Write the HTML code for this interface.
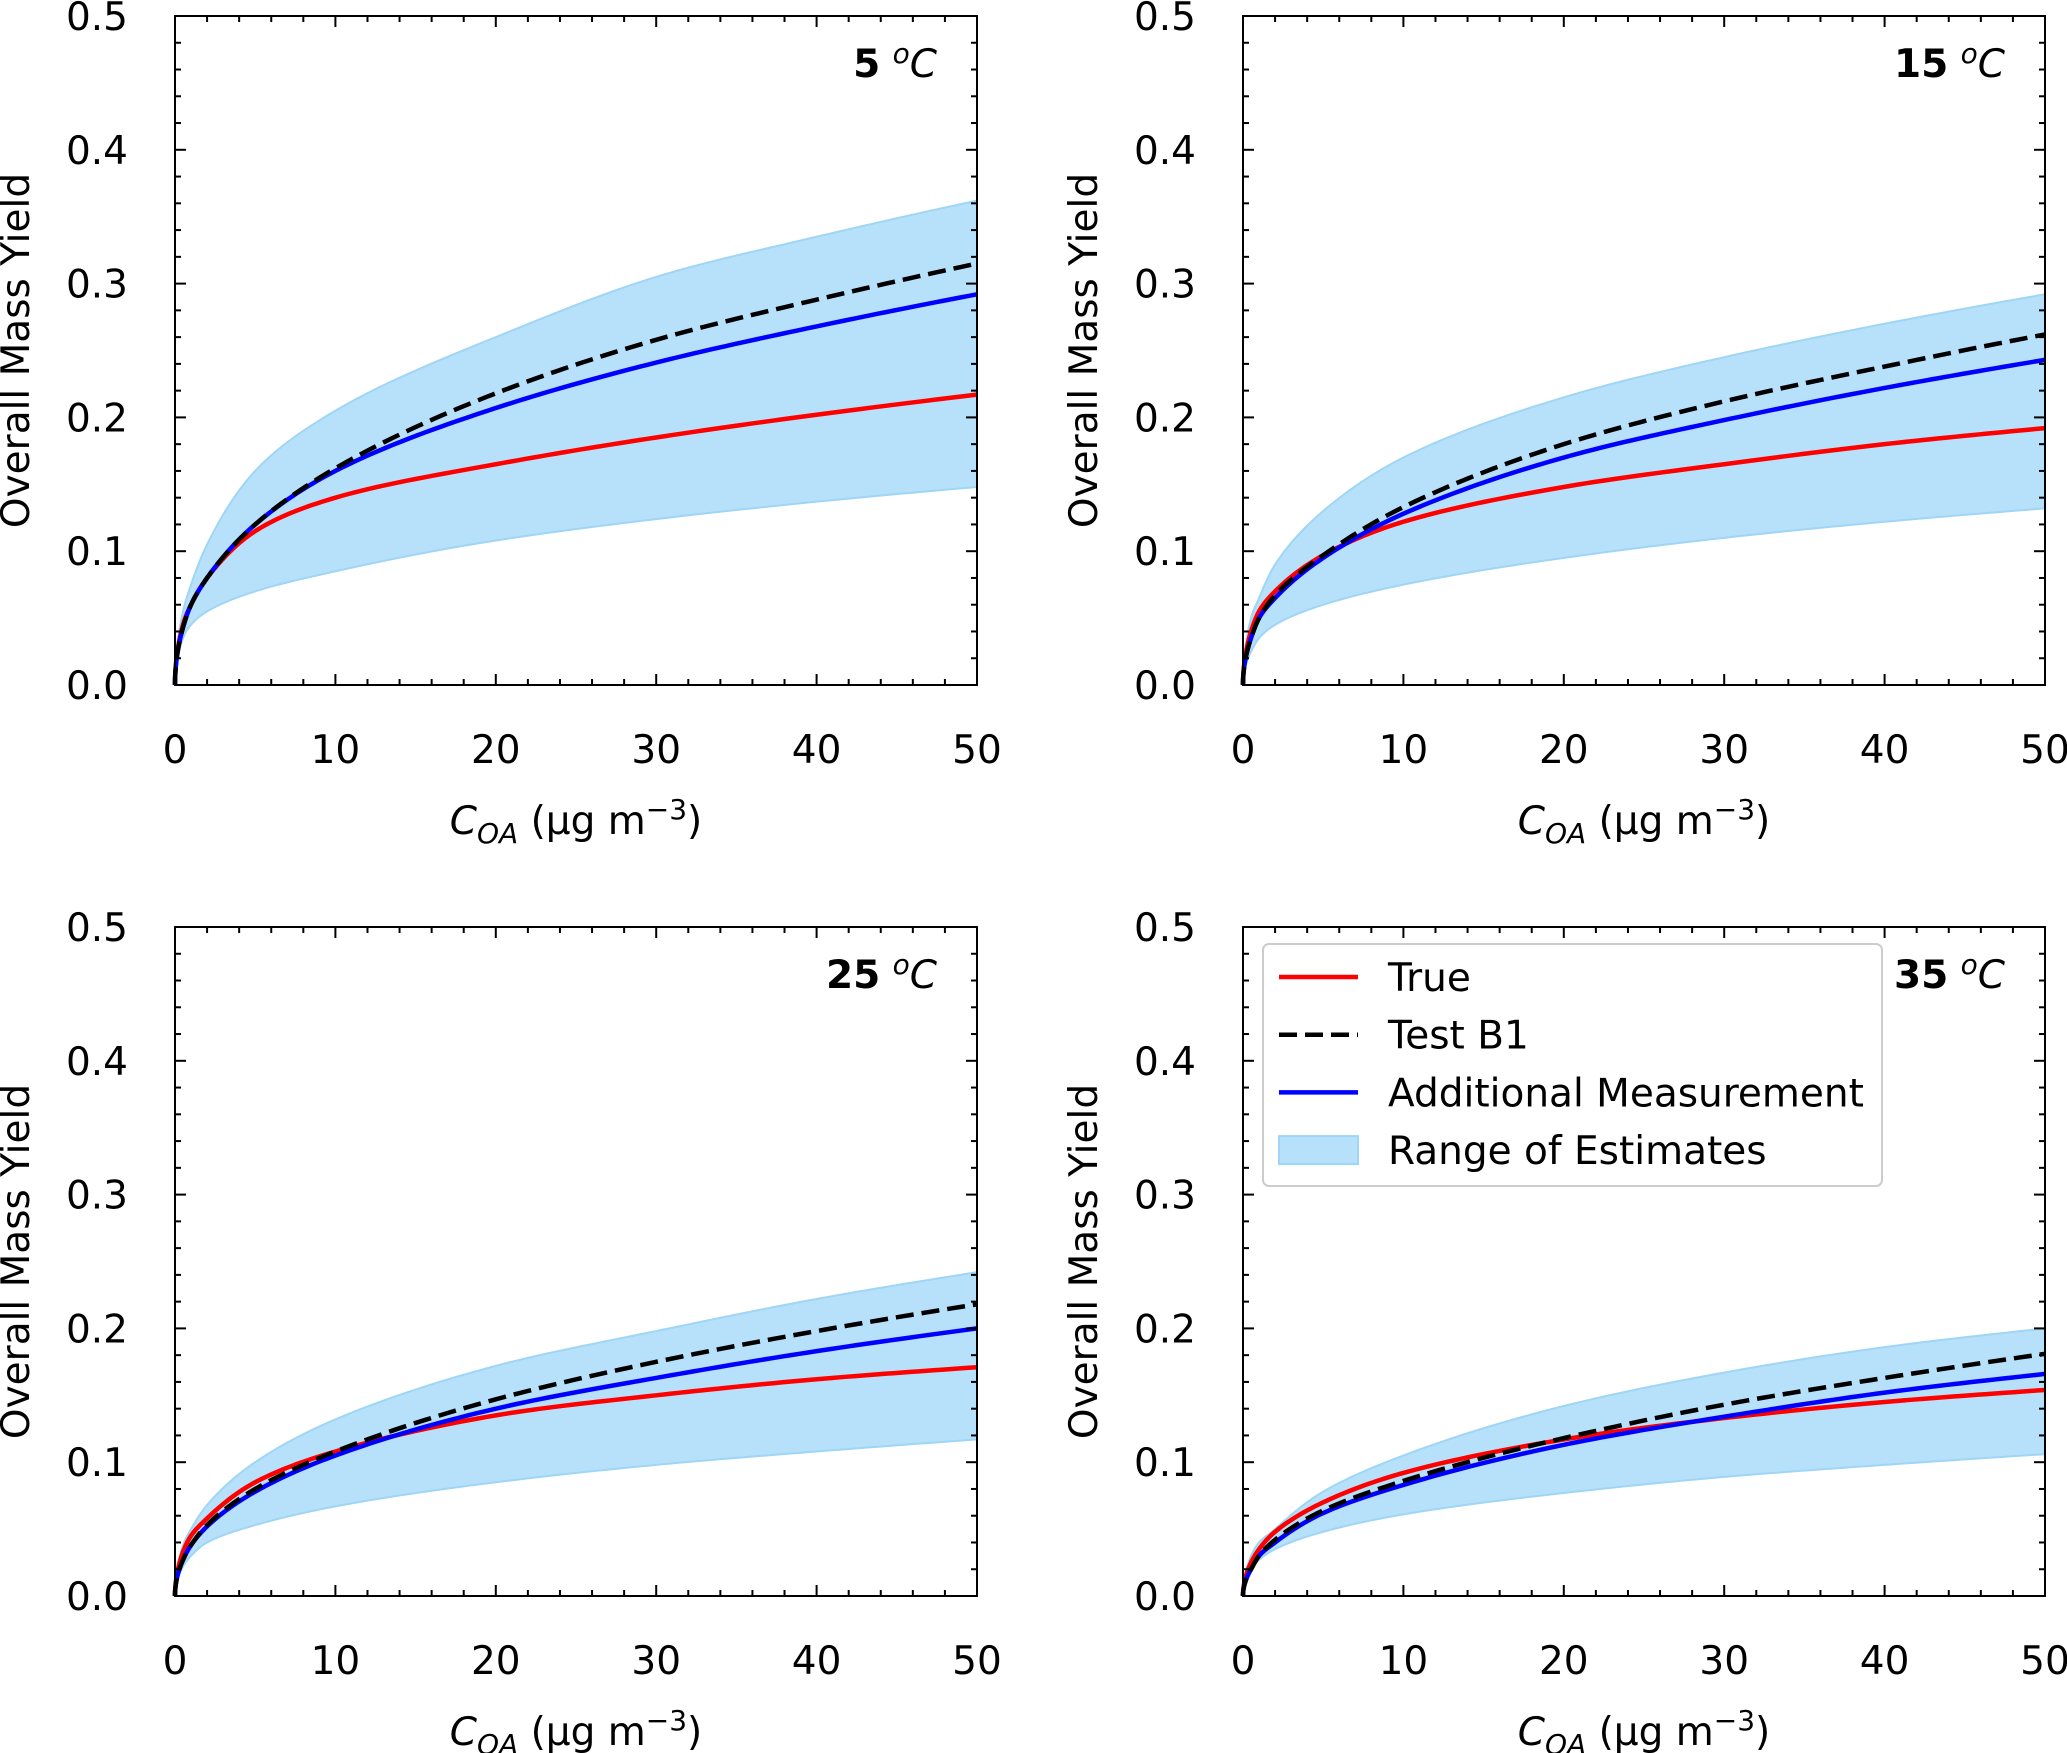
<!DOCTYPE html>
<html><head><meta charset="utf-8"><style>
html,body{margin:0;padding:0;background:#fff;}
svg{display:block;font-family:"DejaVu Sans","Liberation Sans",sans-serif;}
</style></head><body>
<svg id="fig" width="2067" height="1753" viewBox="0 0 2067 1753" xmlns="http://www.w3.org/2000/svg"></svg>
<script>
const xs = [0, 0.5, 1, 2, 5, 10, 20, 30, 40, 50];
const panelTitles = ["5", "15", "25", "35"];
const trueVals = [
 [0,0.045,0.06,0.08,0.115,0.140,0.165,0.185,0.202,0.217],
 [0,0.040,0.055,0.07,0.097,0.122,0.148,0.165,0.180,0.192],
 [0,0.033,0.045,0.058,0.085,0.108,0.135,0.150,0.162,0.171],
 [0,0.025,0.035,0.048,0.070,0.092,0.117,0.133,0.145,0.154]];
const testVals = [
 [0,0.043,0.06,0.08,0.120,0.162,0.218,0.258,0.288,0.315],
 [0,0.035,0.05,0.067,0.097,0.133,0.180,0.212,0.238,0.262],
 [0,0.027,0.038,0.053,0.080,0.108,0.147,0.175,0.198,0.218],
 [0,0.020,0.030,0.042,0.064,0.086,0.118,0.143,0.163,0.181]];
const addVals = [
 [0,0.043,0.06,0.08,0.120,0.160,0.207,0.241,0.268,0.292],
 [0,0.035,0.05,0.065,0.095,0.128,0.170,0.198,0.222,0.243],
 [0,0.027,0.038,0.052,0.078,0.105,0.140,0.163,0.183,0.200],
 [0,0.020,0.030,0.040,0.062,0.083,0.113,0.134,0.152,0.166]];
const upperVals = [
 [0,0.055,0.075,0.105,0.160,0.205,0.260,0.305,0.335,0.362],
 [0,0.050,0.065,0.090,0.130,0.170,0.215,0.245,0.270,0.292],
 [0,0.038,0.050,0.068,0.100,0.132,0.172,0.198,0.222,0.242],
 [0,0.030,0.040,0.050,0.078,0.105,0.142,0.167,0.186,0.200]];
const lowerVals = [
 [0,0.035,0.045,0.055,0.070,0.085,0.108,0.124,0.137,0.148],
 [0,0.025,0.035,0.045,0.060,0.075,0.095,0.110,0.122,0.132],
 [0,0.022,0.030,0.040,0.053,0.067,0.085,0.098,0.108,0.117],
 [0,0.020,0.027,0.035,0.048,0.061,0.077,0.089,0.098,0.106]];
const xTicks = [0,10,20,30,40,50];
const yTicks = [0,0.1,0.2,0.3,0.4,0.5];

const NS = "http://www.w3.org/2000/svg";
const svg = document.getElementById("fig");
function el(tag, attrs, parent){ const e=document.createElementNS(NS,tag); for(const k in attrs) e.setAttribute(k,attrs[k]); (parent||svg).appendChild(e); return e; }

const origins = [[175,16],[1243,16],[175,927],[1243,927]];
const W = 802, H = 669;
const FS = 39;

// smooth in sqrt(x) space, return dense [x,y] data samples
function dense(vals){
  const u = xs.map(Math.sqrt);
  const out=[];
  for(let i=0;i<u.length-1;i++){
    const i0=Math.max(i-1,0), i3=Math.min(i+2,u.length-1);
    const m1=(vals[i+1]-vals[i0])/(u[i+1]-u[i0]);
    const m2=(vals[i3]-vals[i])/(u[i3]-u[i]);
    const h=u[i+1]-u[i];
    const N=20;
    for(let k=0;k<N;k++){
      const t=k/N, t2=t*t, t3=t2*t;
      const y=(2*t3-3*t2+1)*vals[i]+(t3-2*t2+t)*h*m1+(-2*t3+3*t2)*vals[i+1]+(t3-t2)*h*m2;
      const uu=u[i]+t*h;
      out.push([uu*uu,y]);
    }
  }
  out.push([xs[xs.length-1],vals[vals.length-1]]);
  return out;
}

for(let p=0;p<4;p++){
  const [ox,oy]=origins[p];
  const sx = v => ox + v/50*W;
  const sy = v => oy + H - v/0.5*H;
  const g = el("g",{});
  
  
  const toPts = arr => arr.map(([x,y])=>sx(x).toFixed(2)+","+sy(y).toFixed(2));
  const up = toPts(dense(upperVals[p]));
  const lo = toPts(dense(lowerVals[p])).reverse();
  const band = el("path",{d:"M"+up.join(" L")+" L"+lo.join(" L")+" Z", fill:"#b7e1fa", stroke:"#9fd5f5", "stroke-width":2},g);
  
  
  const series=[[trueVals,"#ff0000",null,"true-line"],[addVals,"#0000ff",null,"additional-line"],[testVals,"#000000","18 8","test-b1-line"]];
  series.forEach(([vals,col,dash,name])=>{
    const pts = toPts(dense(vals[p]));
    const a={d:"M"+pts.join(" L"),fill:"none",stroke:col,"stroke-width":4.5,"stroke-linejoin":"round"};
    if(dash) a["stroke-dasharray"]=dash;
    const l=el("path",a,g);
    
    
  });
  const fr=el("rect",{x:ox,y:oy,width:W,height:H,fill:"none",stroke:"#000","stroke-width":2},g);
  
  
  for(let k=0;k<=25;k++){
    const v=k*2, major=k%5===0, L=major?11:6, X=sx(v);
    el("line",{x1:X,y1:oy+H,x2:X,y2:oy+H-L,stroke:"#000","stroke-width":2},g);
    el("line",{x1:X,y1:oy,x2:X,y2:oy+L,stroke:"#000","stroke-width":2},g);
  }
  for(let k=0;k<=25;k++){
    const v=k*0.02, major=k%5===0, L=major?11:6, Y=sy(v);
    el("line",{x1:ox,y1:Y,x2:ox+L,y2:Y,stroke:"#000","stroke-width":2},g);
    el("line",{x1:ox+W,y1:Y,x2:ox+W-L,y2:Y,stroke:"#000","stroke-width":2},g);
  }
  xTicks.forEach(v=>{
    const t=el("text",{x:sx(v),y:oy+H+78,"font-size":FS,"text-anchor":"middle",fill:"#000"},g);
    t.textContent=String(v);
    
    
  });
  yTicks.forEach(v=>{
    const t=el("text",{x:ox-47,y:sy(v)+14,"font-size":FS,"text-anchor":"end",fill:"#000"},g);
    t.textContent=v.toFixed(1);
    
    
  });
  const yl=el("text",{x:0,y:0,"font-size":FS,"text-anchor":"middle",fill:"#000",transform:`translate(${ox-146},${oy+H/2}) rotate(-90)`},g);
  yl.textContent="Overall Mass Yield";
  
  
  const xl=el("text",{x:ox+W/2,y:oy+H+149,"font-size":FS,"text-anchor":"middle",fill:"#000"},g);
  xl.innerHTML='<tspan font-style="italic">C</tspan><tspan font-style="italic" font-size="28" dy="9">OA</tspan><tspan dy="-9"> (µg m</tspan><tspan font-size="28" dy="-15">−3</tspan><tspan dy="15">)</tspan>';
  
  
  const tt=el("text",{x:ox+W-40,y:oy+61,"font-size":FS,"text-anchor":"end",fill:"#000"},g);
  tt.innerHTML='<tspan font-weight="bold">'+panelTitles[p]+'</tspan> <tspan font-style="italic" font-size="28" dy="-14">o</tspan><tspan font-style="italic" dy="14">C</tspan>';
  
  
}
const lg=el("g",{});


el("rect",{x:1263,y:944,width:619,height:242,rx:6,fill:"#fff","fill-opacity":0.9,stroke:"#cccccc","stroke-width":2},lg);
const legItems=[["True","#ff0000",null],["Test B1","#000000","18 8"],["Additional Measurement","#0000ff",null],["Range of Estimates",null,null]];
legItems.forEach((it,i)=>{
  const y=977+i*57.7;
  const e=el("g",{},lg);
  
  
  if(it[1]){
    const a={x1:1279,y1:y,x2:1358,y2:y,stroke:it[1],"stroke-width":4.5};
    if(it[2]) a["stroke-dasharray"]=it[2];
    el("line",a,e);
  } else {
    el("rect",{x:1279,y:y-14,width:79,height:28,fill:"#b7e1fa",stroke:"#9fd5f5","stroke-width":2},e);
  }
  const t=el("text",{x:1388,y:y+14,"font-size":FS,fill:"#000"},e);
  t.textContent=it[0];
});
</script>
</body></html>
